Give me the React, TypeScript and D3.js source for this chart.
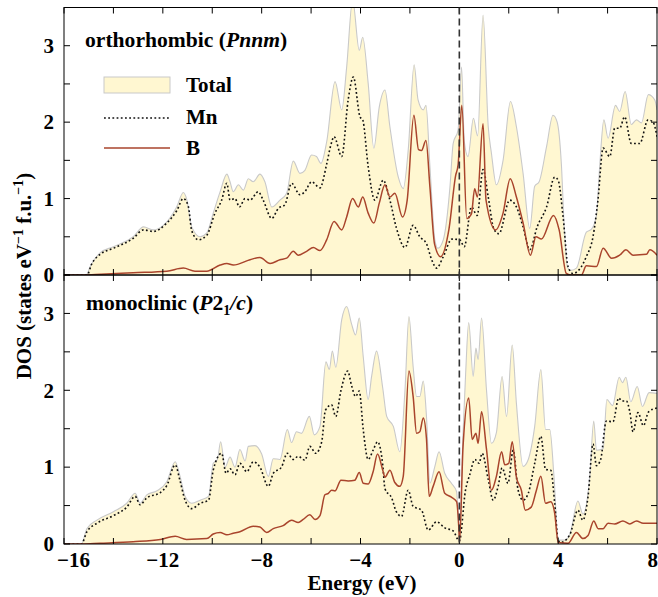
import React from "react";
import * as d3 from "d3";

type Pt = [number, number];

// Energy (eV) vs DOS (states eV^-1 f.u.^-1)
const orthoTotal: Pt[] = [
  [-16, 0], [-15.1, 0], [-14.94, 0.11], [-14.54, 0.29], [-14.0, 0.37], [-13.2, 0.5], [-12.78, 0.63], [-12.38, 0.59],
  [-11.98, 0.65], [-11.44, 0.89], [-11.17, 1.08], [-11.04, 1.0], [-10.83, 0.63], [-10.49, 0.5], [-10.22, 0.55],
  [-9.96, 0.81], [-9.68, 1.09], [-9.41, 1.32], [-9.28, 1.22], [-9.15, 1.09], [-8.94, 1.18], [-8.74, 1.11],
  [-8.54, 1.26], [-8.34, 1.22], [-8.07, 1.32], [-7.87, 1.22], [-7.59, 0.89], [-7.26, 0.98], [-6.99, 1.07],
  [-6.72, 1.49], [-6.45, 1.33], [-6.25, 1.37], [-5.98, 1.57], [-5.78, 1.55], [-5.6, 1.46], [-5.37, 1.74],
  [-5.03, 2.53], [-4.76, 2.16], [-4.56, 2.72], [-4.32, 3.6], [-4.05, 2.94], [-3.91, 3.11], [-3.69, 2.51],
  [-3.46, 1.66], [-3.24, 2.2], [-3.01, 2.42], [-2.81, 1.94], [-2.47, 1.28], [-2.27, 1.13], [-2.07, 1.63],
  [-1.83, 2.75], [-1.67, 2.29], [-1.46, 2.16], [-1.35, 2.22], [-1.19, 1.42], [-0.99, 0.46], [-0.87, 0.35],
  [-0.65, 0.46], [-0.38, 1.15], [-0.25, 1.72], [-0.05, 1.9], [0.09, 2.72], [0.2, 1.75], [0.35, 1.55],
  [0.57, 2.05], [0.74, 1.82], [0.96, 3.4], [1.17, 1.94], [1.3, 1.59], [1.5, 1.18], [1.77, 1.5], [2.07, 2.27],
  [2.31, 1.94], [2.58, 1.33], [2.85, 0.61], [3.05, 1.16], [3.23, 1.22], [3.53, 1.68], [3.79, 2.09], [3.96, 2.0],
  [4.13, 1.45], [4.25, 0.6], [4.38, 0.1], [4.5, 0.06], [4.74, 0.09], [5.14, 0.56], [5.35, 0.6], [5.55, 0.78],
  [5.68, 1.42], [5.85, 2.03], [6.02, 1.79], [6.32, 2.22], [6.49, 2.14], [6.71, 2.4], [6.96, 1.97], [7.17, 2.03],
  [7.37, 1.99], [7.65, 2.36], [7.91, 2.29], [8.0, 2.16],
];

const orthoMn: Pt[] = [
  [-16, 0], [-15.07, 0], [-14.87, 0.15], [-14.54, 0.27], [-14.0, 0.35], [-13.2, 0.48], [-12.78, 0.59],
  [-12.38, 0.57], [-11.84, 0.68], [-11.44, 0.84], [-11.17, 1.0], [-10.97, 0.9], [-10.83, 0.58], [-10.56, 0.46],
  [-10.22, 0.52], [-9.89, 0.81], [-9.62, 0.98], [-9.41, 1.2], [-9.28, 0.98], [-9.08, 1.0], [-8.9, 0.89],
  [-8.67, 1.0], [-8.47, 0.98], [-8.14, 1.09], [-7.94, 0.98], [-7.59, 0.74], [-7.33, 0.87], [-7.06, 0.92],
  [-6.79, 1.2], [-6.45, 1.05], [-6.25, 1.09], [-5.98, 1.22], [-5.64, 1.14], [-5.37, 1.45], [-5.2, 1.7],
  [-5.07, 1.81], [-4.76, 1.55], [-4.5, 2.29], [-4.29, 2.59], [-4.02, 2.07], [-3.91, 2.03], [-3.69, 1.42],
  [-3.42, 0.98], [-3.08, 1.24], [-2.81, 0.98], [-2.55, 0.62], [-2.2, 0.36], [-1.87, 0.65], [-1.6, 0.5],
  [-1.33, 0.41], [-1.12, 0.2], [-0.92, 0.09], [-0.65, 0.24], [-0.3, 0.47], [0.02, 0.46], [0.2, 0.37],
  [0.49, 0.89], [0.72, 0.78], [0.96, 1.38], [1.17, 1.02], [1.4, 0.6], [1.6, 0.54], [2.04, 0.98], [2.31, 0.89],
  [2.58, 0.63], [2.85, 0.33], [3.15, 0.63], [3.53, 0.89], [3.86, 1.28], [4.0, 1.24], [4.2, 0.76], [4.4, 0.11],
  [4.6, 0.02], [4.94, 0.11], [5.14, 0.24], [5.41, 0.5], [5.61, 0.98], [5.82, 1.66], [6.09, 1.55], [6.29, 1.92],
  [6.49, 1.92], [6.69, 2.07], [6.96, 1.72], [7.3, 1.72], [7.64, 2.03], [7.84, 2.0], [8.0, 1.81],
];

const orthoB: Pt[] = [
  [-16, 0], [-15.2, 0], [-14.5, 0.01], [-13.2, 0.03], [-11.84, 0.05], [-11.17, 0.09], [-10.7, 0.05],
  [-10.22, 0.05], [-9.68, 0.13], [-9.41, 0.15], [-9.15, 0.13], [-8.47, 0.2], [-8.07, 0.23], [-7.66, 0.15],
  [-7.26, 0.2], [-6.99, 0.22], [-6.72, 0.31], [-6.52, 0.26], [-6.18, 0.31], [-5.91, 0.36], [-5.64, 0.32],
  [-5.37, 0.46], [-5.07, 0.7], [-4.76, 0.59], [-4.56, 0.76], [-4.32, 1.0], [-4.09, 0.89], [-3.91, 1.02],
  [-3.69, 0.81], [-3.46, 0.68], [-3.24, 0.94], [-3.01, 1.18], [-2.81, 1.02], [-2.61, 1.07], [-2.3, 0.76],
  [-2.11, 0.98], [-1.84, 2.09], [-1.65, 1.64], [-1.53, 1.63], [-1.35, 1.76], [-1.19, 1.15], [-1.0, 0.4],
  [-0.76, 0.24], [-0.42, 0.6], [-0.15, 1.3], [-0.05, 1.44], [0.1, 2.22], [0.3, 0.74], [0.49, 0.8], [0.62, 1.13],
  [0.73, 1.02], [0.96, 1.98], [1.08, 0.98], [1.47, 0.59], [1.77, 0.81], [2.06, 1.26], [2.31, 1.02], [2.58, 0.68],
  [2.88, 0.26], [3.1, 0.5], [3.32, 0.47], [3.81, 0.78], [4.04, 0.59], [4.33, 0.02], [4.5, 0], [4.94, 0],
  [5.14, 0.12], [5.55, 0.11], [5.82, 0.35], [6.16, 0.22], [6.49, 0.26], [6.74, 0.33], [7.03, 0.26], [7.57, 0.27],
  [7.71, 0.33], [8.0, 0.26],
];

const monoTotal: Pt[] = [
  [-16, 0], [-15.3, 0], [-15.07, 0.2], [-14.67, 0.31], [-14.0, 0.42], [-13.46, 0.53], [-13.12, 0.66],
  [-12.92, 0.53], [-12.65, 0.64], [-12.25, 0.69], [-11.84, 0.81], [-11.5, 1.07], [-11.31, 0.89], [-11.1, 0.62],
  [-10.83, 0.53], [-10.49, 0.57], [-10.15, 0.62], [-9.96, 1.05], [-9.79, 1.1], [-9.66, 1.33], [-9.48, 1.0],
  [-9.28, 1.13], [-9.08, 1.0], [-8.88, 1.23], [-8.67, 1.08], [-8.54, 1.27], [-8.27, 1.28], [-8.0, 1.17],
  [-7.73, 0.88], [-7.53, 1.11], [-7.26, 1.1], [-6.96, 1.49], [-6.79, 1.32], [-6.59, 1.46], [-6.39, 1.44],
  [-6.07, 1.66], [-5.87, 1.42], [-5.64, 1.53], [-5.4, 2.37], [-5.26, 2.27], [-5.14, 2.51], [-5.0, 2.3],
  [-4.76, 2.92], [-4.56, 3.09], [-4.36, 2.86], [-4.2, 2.72], [-4.05, 2.94], [-3.89, 2.44], [-3.69, 1.88],
  [-3.55, 2.18], [-3.35, 2.51], [-3.1, 2.03], [-2.94, 1.66], [-2.67, 1.53], [-2.41, 1.2], [-2.2, 2.0],
  [-2.04, 2.96], [-1.87, 2.31], [-1.73, 1.92], [-1.6, 1.92], [-1.46, 2.12], [-1.33, 1.66], [-1.19, 0.79],
  [-0.99, 1.01], [-0.82, 1.2], [-0.59, 0.92], [-0.32, 0.79], [-0.11, 0.68], [0.0, 0.1], [0.15, 1.44],
  [0.25, 2.18], [0.38, 2.88], [0.56, 2.18], [0.67, 2.55], [0.76, 2.4], [0.9, 2.94], [1.1, 2.0], [1.3, 1.31],
  [1.5, 1.45], [1.73, 2.18], [1.91, 1.66], [2.14, 2.59], [2.31, 1.83], [2.58, 1.01], [2.79, 1.1], [3.05, 1.53],
  [3.3, 2.27], [3.49, 1.49], [3.66, 1.49], [3.83, 0.88], [4.0, 0.05], [4.27, 0.05], [4.47, 0.12], [4.8, 0.56],
  [5.0, 0.39], [5.28, 0.88], [5.44, 1.6], [5.55, 1.22], [5.82, 1.24], [5.97, 1.88], [6.2, 1.8], [6.47, 2.17],
  [6.6, 2.1], [6.74, 2.17], [6.94, 1.85], [7.2, 2.05], [7.41, 1.79], [7.68, 1.97], [8.0, 1.96],
];

const monoMn: Pt[] = [
  [-16, 0], [-15.3, 0], [-15.07, 0.16], [-14.67, 0.27], [-14.0, 0.37], [-13.46, 0.48], [-13.12, 0.62],
  [-12.92, 0.51], [-12.65, 0.6], [-12.1, 0.67], [-11.84, 0.76], [-11.5, 1.03], [-11.31, 0.83], [-11.1, 0.57],
  [-10.83, 0.46], [-10.49, 0.53], [-10.15, 0.57], [-9.96, 0.96], [-9.62, 1.18], [-9.44, 0.92], [-9.28, 0.98],
  [-9.08, 0.9], [-8.88, 1.05], [-8.6, 0.94], [-8.34, 1.07], [-8.07, 1.0], [-7.73, 0.75], [-7.53, 0.92],
  [-7.2, 1.0], [-6.96, 1.18], [-6.72, 1.1], [-6.52, 1.14], [-6.25, 1.09], [-6.05, 1.27], [-5.81, 1.18],
  [-5.57, 1.33], [-5.42, 1.74], [-5.17, 1.81], [-5.0, 1.66], [-4.79, 2.0], [-4.52, 2.25], [-4.36, 2.06],
  [-4.2, 1.92], [-4.05, 1.99], [-3.89, 1.49], [-3.69, 1.1], [-3.49, 1.22], [-3.31, 1.33], [-3.1, 1.03],
  [-3.01, 0.72], [-2.74, 0.6], [-2.55, 0.42], [-2.34, 0.36], [-2.07, 0.7], [-1.87, 0.49], [-1.53, 0.44],
  [-1.26, 0.18], [-0.92, 0.29], [-0.59, 0.21], [-0.25, 0.17], [0.0, 0.04], [0.25, 0.7], [0.42, 0.9],
  [0.63, 1.1], [0.8, 1.05], [0.92, 1.18], [1.17, 0.84], [1.37, 0.57], [1.57, 0.75], [1.73, 0.99], [1.97, 0.79],
  [2.18, 1.22], [2.38, 0.7], [2.58, 0.57], [2.79, 0.66], [3.05, 1.05], [3.3, 1.4], [3.49, 0.97], [3.7, 0.96],
  [3.86, 0.53], [4.0, 0.05], [4.1, 0.02], [4.47, 0.12], [4.8, 0.44], [5.0, 0.31], [5.21, 0.62], [5.41, 1.3],
  [5.55, 1.02], [5.72, 1.1], [5.95, 1.6], [6.22, 1.59], [6.45, 1.9], [6.58, 1.86], [6.76, 1.86], [6.9, 1.72],
  [7.03, 1.46], [7.23, 1.71], [7.45, 1.54], [7.66, 1.72], [8.0, 1.77],
];

const monoB: Pt[] = [
  [-16, 0], [-15.3, 0], [-14.54, 0.01], [-13.2, 0.03], [-12.1, 0.06], [-11.5, 0.1], [-11.04, 0.06],
  [-10.22, 0.07], [-9.96, 0.13], [-9.68, 0.15], [-9.41, 0.12], [-9.15, 0.14], [-8.88, 0.16], [-8.34, 0.23],
  [-8.07, 0.22], [-7.8, 0.15], [-7.53, 0.2], [-7.13, 0.24], [-6.79, 0.31], [-6.52, 0.28], [-6.32, 0.32],
  [-6.05, 0.38], [-5.84, 0.32], [-5.64, 0.37], [-5.44, 0.64], [-5.3, 0.66], [-5.17, 0.7], [-5.03, 0.69],
  [-4.79, 0.83], [-4.5, 0.82], [-4.23, 0.83], [-4.05, 0.93], [-3.89, 0.79], [-3.69, 0.78], [-3.49, 0.94],
  [-3.31, 1.17], [-3.1, 0.96], [-3.01, 0.87], [-2.81, 0.96], [-2.61, 0.8], [-2.41, 0.75], [-2.27, 0.88],
  [-2.04, 2.25], [-1.87, 1.92], [-1.73, 1.44], [-1.6, 1.46], [-1.46, 1.64], [-1.33, 1.37], [-1.22, 0.62],
  [-1.06, 0.75], [-0.82, 0.94], [-0.59, 0.66], [-0.32, 0.61], [-0.11, 0.55], [-0.03, 0.27], [0.01, 0.03],
  [0.15, 1.27], [0.38, 1.9], [0.52, 1.36], [0.67, 1.44], [0.76, 1.31], [0.9, 1.72], [1.1, 1.23], [1.3, 0.7],
  [1.5, 0.88], [1.71, 1.2], [1.84, 1.03], [2.0, 1.05], [2.14, 1.33], [2.31, 0.87], [2.51, 0.7], [2.67, 0.44],
  [2.91, 0.48], [3.12, 0.7], [3.3, 0.88], [3.49, 0.53], [3.7, 0.55], [3.86, 0.4], [4.0, 0.02], [4.4, 0.01],
  [4.74, 0.15], [5.0, 0.07], [5.21, 0.11], [5.44, 0.3], [5.62, 0.2], [5.82, 0.2], [6.02, 0.27], [6.29, 0.26],
  [6.62, 0.3], [6.9, 0.26], [7.17, 0.3], [7.44, 0.27], [8.0, 0.27],
];

const energyDomain: [number, number] = [-16, 8];
const dosDomain: [number, number] = [0, 3.5];
const xTickLabels = [-16, -12, -8, -4, 0, 4, 8];
const yTickLabels = [0, 1, 2, 3];
const legendLabels = ["Total", "Mn", "B"];

const W = 658;
const H = 597;
const LEFT = 64;
const RIGHT = 657;
const TOP = 7.5;
const MID = 275;
const BOTTOM = 544;

const FILL = "#fff7d1";
const OUTLINE = "#c9c9c9";
const BCOLOR = "#a9442c";
const FONT = "Liberation Serif, Tinos, DejaVu Serif, serif";

const x = d3.scaleLinear().domain(energyDomain).range([LEFT, RIGHT]);
const yTop = d3.scaleLinear().domain(dosDomain).range([MID, TOP]);
const yBot = d3.scaleLinear().domain(dosDomain).range([BOTTOM, MID]);

const minorX = d3.range(-16, 8.001, 2);
const minorY = d3.range(0, 3.501, 0.5);

function fmt(v: number) {
  return v < 0 ? "\u2212" + Math.abs(v) : String(v);
}

function Panel({
  y,
  total,
  mn,
  b,
  id,
}: {
  y: d3.ScaleLinear<number, number>;
  total: Pt[];
  mn: Pt[];
  b: Pt[];
  id: string;
}) {
  const curve = d3.curveMonotoneX;
  const area = d3
    .area<Pt>()
    .x((d) => x(d[0]))
    .y0(y(0))
    .y1((d) => y(d[1]))
    .curve(curve);
  const line = d3
    .line<Pt>()
    .x((d) => x(d[0]))
    .y((d) => y(d[1]))
    .curve(curve);
  const [y0, y1] = [y(0), y(3.5)];
  return (
    <g>
      <defs>
        <clipPath id={id}>
          <rect x={LEFT} y={y1} width={RIGHT - LEFT} height={y0 - y1} />
        </clipPath>
      </defs>
      <g clipPath={`url(#${id})`}>
        <path d={area(total) ?? ""} fill={FILL} />
        <path d={line(total) ?? ""} fill="none" stroke={OUTLINE} strokeWidth={1.1} />
        <path d={line(mn) ?? ""} fill="none" stroke="#111" strokeWidth={1.6} strokeDasharray="1.8,2.4" />
        <path d={line(b) ?? ""} fill="none" stroke={BCOLOR} strokeWidth={1.5} />
      </g>
      {/* inward ticks on all four sides */}
      {minorX.map((e) => (
        <g key={"xt" + e}>
          <line x1={x(e)} x2={x(e)} y1={y0} y2={y0 - 6} stroke="#000" strokeWidth={1} />
          <line x1={x(e)} x2={x(e)} y1={y1} y2={y1 + 6} stroke="#000" strokeWidth={1} />
        </g>
      ))}
      {minorY.map((v) => (
        <g key={"yt" + v}>
          <line x1={LEFT} x2={LEFT + 6} y1={y(v)} y2={y(v)} stroke="#000" strokeWidth={1} />
          <line x1={RIGHT} x2={RIGHT - 6} y1={y(v)} y2={y(v)} stroke="#000" strokeWidth={1} />
        </g>
      ))}
      {yTickLabels.map((v) => (
        <text
          key={"yl" + v}
          x={54}
          y={y(v)}
          dy="0.35em"
          textAnchor="end"
          fontSize={21}
          fontWeight="bold"
          fontFamily={FONT}
        >
          {v}
        </text>
      ))}
      <rect x={LEFT} y={y1} width={RIGHT - LEFT} height={y0 - y1} fill="none" stroke="#000" strokeWidth={1} />
    </g>
  );
}

export default function App() {
  return (
    <svg
      width={W}
      height={H}
      viewBox={`0 0 ${W} ${H}`}
      style={{ position: "absolute", left: 0, top: 0, background: "#fff", fontFamily: FONT }}
    >
      <rect width={W} height={H} fill="#fff" />
      <Panel y={yTop} total={orthoTotal} mn={orthoMn} b={orthoB} id="clipTop" />
      <Panel y={yBot} total={monoTotal} mn={monoMn} b={monoB} id="clipBot" />

      {/* Fermi level */}
      <line
        x1={x(0)}
        x2={x(0)}
        y1={TOP}
        y2={BOTTOM}
        stroke="#333"
        strokeWidth={1.6}
        strokeDasharray="7,4"
      />

      {/* panel titles */}
      <text x={85} y={47} fontSize={21.6} fontWeight="bold" fontFamily={FONT}>
        orthorhombic (<tspan fontStyle="italic">Pnnm</tspan>)
      </text>
      <text x={86} y={310} fontSize={21.6} fontWeight="bold" fontFamily={FONT}>
        monoclinic (<tspan fontStyle="italic">P</tspan>2
        <tspan fontSize={14} dy={5}>1</tspan>
        <tspan dy={-5} fontStyle="italic">/c</tspan>)
      </text>

      {/* legend */}
      <rect x={104} y={77} width={66} height={16} fill={FILL} stroke={OUTLINE} strokeWidth={1} />
      <line x1={104} x2={170} y1={118} y2={118} stroke="#111" strokeWidth={1.6} strokeDasharray="1.8,2.4" />
      <line x1={104} x2={170} y1={148} y2={148} stroke={BCOLOR} strokeWidth={1.5} />
      {legendLabels.map((t, i) => (
        <text key={t} x={186} y={92 + i * 31.5} fontSize={21} fontWeight="bold" fontFamily={FONT}>
          {t}
        </text>
      ))}

      {/* x tick labels */}
      {xTickLabels.map((e, i) => {
        const anchor = i === 0 ? "start" : i === xTickLabels.length - 1 ? "end" : "middle";
        const px = i === 0 ? x(e) - 7 : i === xTickLabels.length - 1 ? x(e) + 1 : x(e);
        return (
          <text
            key={"xl" + e}
            x={px}
            y={567}
            textAnchor={anchor}
            fontSize={21}
            fontWeight="bold"
            fontFamily={FONT}
          >
            {fmt(e)}
          </text>
        );
      })}

      {/* axis titles */}
      <text x={362} y={590} textAnchor="middle" fontSize={21} fontWeight="bold" fontFamily={FONT}>
        Energy (eV)
      </text>
      <text
        transform={`translate(31,276) rotate(-90)`}
        textAnchor="middle"
        fontSize={21}
        fontWeight="bold"
        fontFamily={FONT}
      >
        DOS (states eV<tspan fontSize={14} dy={-8}>{"\u22121"}</tspan>
        <tspan dy={8}> f.u.</tspan>
        <tspan fontSize={14} dy={-8}>{"\u22121"}</tspan>
        <tspan dy={8}>)</tspan>
      </text>
    </svg>
  );
}
